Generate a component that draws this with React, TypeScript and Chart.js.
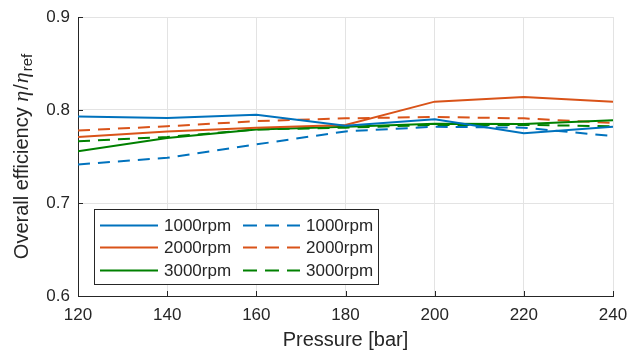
import { useEffect, useRef } from "react";
import { Chart, registerables } from "chart.js";

Chart.register(...registerables);

const pressures = [120, 140, 160, 180, 200, 220, 240];
const solid1000 = [0.793, 0.7915, 0.795, 0.783, 0.79, 0.775, 0.782];
const solid2000 = [0.771, 0.777, 0.781, 0.784, 0.809, 0.814, 0.809];
const solid3000 = [0.7555, 0.77, 0.779, 0.782, 0.7853, 0.785, 0.789];
const dashed1000 = [0.7414, 0.7486, 0.763, 0.777, 0.782, 0.781, 0.772];
const dashed2000 = [0.778, 0.7825, 0.788, 0.791, 0.7925, 0.791, 0.786];
const dashed3000 = [0.7664, 0.771, 0.779, 0.781, 0.784, 0.784, 0.7825];
const seriesLabels = ["1000rpm", "2000rpm", "3000rpm"];
const xTickValues = [120, 140, 160, 180, 200, 220, 240];
const yTickValues = [0.6, 0.7, 0.8, 0.9];

const BLUE = "#0072BD";
const ORANGE = "#D95319";
const GREEN = "#008000";
const TEXT = "#262626";
const FONT = '"Liberation Sans", Arial, sans-serif';

const toPoints = (ys: number[]) => pressures.map((x, i) => ({ x, y: ys[i] }));

const tickPlugin = {
  id: "innerTicks",
  afterDatasetsDraw(chart: any) {
    const { ctx, chartArea, scales } = chart;
    ctx.save();
    ctx.strokeStyle = TEXT;
    ctx.lineWidth = 1;
    ctx.beginPath();
    xTickValues.forEach((v) => {
      const px = Math.round(scales.x.getPixelForValue(v)) + 0.5;
      ctx.moveTo(px, chartArea.bottom);
      ctx.lineTo(px, chartArea.bottom - 5);
    });
    yTickValues.forEach((v) => {
      const py = Math.round(scales.y.getPixelForValue(v)) + 0.5;
      ctx.moveTo(chartArea.left, py);
      ctx.lineTo(chartArea.left + 5, py);
    });
    ctx.stroke();
    ctx.restore();
  },
};

const yTitlePlugin = {
  id: "yTitle",
  afterDraw(chart: any) {
    const { ctx, chartArea } = chart;
    const parts = [
      { t: "Overall efficiency ", f: `20px ${FONT}`, dy: 0, gap: 0 },
      { t: "η", f: 'italic 22px "Liberation Serif", serif', dy: 0, gap: 1 },
      { t: "/", f: `20px ${FONT}`, dy: 0, gap: 1 },
      { t: "η", f: 'italic 22px "Liberation Serif", serif', dy: 0, gap: 1 },
      { t: "ref", f: `15px ${FONT}`, dy: 6, gap: 0 },
    ];
    ctx.save();
    let total = 0;
    parts.forEach((p) => {
      ctx.font = p.f;
      total += ctx.measureText(p.t).width + p.gap;
    });
    ctx.translate(22, (chartArea.top + chartArea.bottom) / 2);
    ctx.rotate(-Math.PI / 2);
    ctx.fillStyle = TEXT;
    ctx.textBaseline = "middle";
    ctx.textAlign = "left";
    let x = -total / 2;
    parts.forEach((p) => {
      ctx.font = p.f;
      ctx.fillText(p.t, x, p.dy);
      x += ctx.measureText(p.t).width + p.gap;
    });
    ctx.restore();
  },
};

const legendPlugin = {
  id: "customLegend",
  afterDraw(chart: any) {
    const { ctx } = chart;
    const left = 94.5;
    const top = 209.5;
    const w = 284;
    const h = 75;
    ctx.save();
    ctx.fillStyle = "#ffffff";
    ctx.fillRect(left, top, w, h);
    ctx.strokeStyle = TEXT;
    ctx.lineWidth = 1;
    ctx.strokeRect(left, top, w, h);
    const rows = [225.5, 247.5, 270.5];
    const cols = [
      { x0: 100, x1: 158, tx: 164 },
      { x0: 243, x1: 300, tx: 306 },
    ];
    ctx.font = `17px ${FONT}`;
    ctx.textBaseline = "middle";
    ctx.fillStyle = TEXT;
    chart.data.datasets.forEach((ds: any, i: number) => {
      const c = cols[Math.floor(i / 3)];
      const y = rows[i % 3];
      ctx.strokeStyle = ds.borderColor;
      ctx.lineWidth = ds.borderWidth;
      ctx.setLineDash(ds.borderDash ? [14, 8] : []);
      ctx.beginPath();
      ctx.moveTo(c.x0, y);
      ctx.lineTo(c.x1, y);
      ctx.stroke();
      ctx.setLineDash([]);
      ctx.fillText(ds.label, c.tx, y + 1);
    });
    ctx.restore();
  },
};

export default function App() {
  const ref = useRef<HTMLCanvasElement | null>(null);
  useEffect(() => {
    document.body.style.margin = "0";
    if (!ref.current) return;
    const dash = [12, 8];
    const chart = new Chart(ref.current, {
      type: "line",
      data: {
        datasets: [
          { label: seriesLabels[0], data: toPoints(solid1000), borderColor: BLUE, borderWidth: 2 },
          { label: seriesLabels[1], data: toPoints(solid2000), borderColor: ORANGE, borderWidth: 2 },
          { label: seriesLabels[2], data: toPoints(solid3000), borderColor: GREEN, borderWidth: 2 },
          { label: seriesLabels[0], data: toPoints(dashed1000), borderColor: BLUE, borderWidth: 2, borderDash: dash },
          { label: seriesLabels[1], data: toPoints(dashed2000), borderColor: ORANGE, borderWidth: 2, borderDash: dash },
          { label: seriesLabels[2], data: toPoints(dashed3000), borderColor: GREEN, borderWidth: 2, borderDash: dash },
        ] as any,
      },
      options: {
        animation: false,
        responsive: false,
        events: [],
        elements: { point: { radius: 0 }, line: { tension: 0 } },
        layout: { padding: { left: 0, top: 17, right: 15, bottom: 0 } },
        plugins: { legend: { display: false }, tooltip: { enabled: false } },
        scales: {
          x: {
            type: "linear",
            min: 120,
            max: 240,
            afterFit: (s: any) => {
              s.height = 57;
              s.paddingLeft = 0;
              s.paddingRight = 0;
            },
            afterBuildTicks: (s: any) => {
              s.ticks = xTickValues.map((v) => ({ value: v }));
            },
            ticks: { color: TEXT, font: { size: 17, family: FONT }, padding: 9, maxRotation: 0 },
            grid: { color: "#e3e3e3", drawTicks: false },
            border: { color: TEXT, width: 1 },
            title: {
              display: true,
              text: "Pressure [bar]",
              color: TEXT,
              font: { size: 20, family: FONT },
              padding: { top: 0, bottom: 1 },
            },
          },
          y: {
            type: "linear",
            min: 0.6,
            max: 0.9,
            afterFit: (s: any) => {
              s.width = 78;
              s.paddingTop = 0;
              s.paddingBottom = 0;
            },
            afterBuildTicks: (s: any) => {
              s.ticks = yTickValues.map((v) => ({ value: v }));
            },
            ticks: {
              color: TEXT,
              font: { size: 17, family: FONT },
              padding: 8,
              callback: (v: any) => Number(v).toFixed(1),
            },
            grid: { color: "#e3e3e3", drawTicks: false },
            border: { color: TEXT, width: 1 },
          },
        },
      } as any,
      plugins: [tickPlugin, legendPlugin, yTitlePlugin],
    });
    return () => chart.destroy();
  }, []);
  return (
    <div style={{ width: 628, height: 353 }}>
      <canvas ref={ref} width={628} height={353} style={{ display: "block" }} />
    </div>
  );
}
